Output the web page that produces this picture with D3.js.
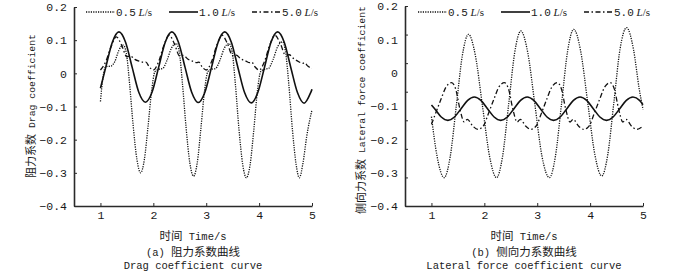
<!DOCTYPE html>
<html>
<head>
<meta charset="utf-8">
<script src="https://cdn.jsdelivr.net/npm/d3@7"></script>
<style>
  body { margin: 0; background: #fff; }
  text { font-family: "Liberation Mono", "DejaVu Sans Mono", "Noto Sans CJK SC", monospace; fill: #1a1a1a; }
  .cjk { font-family: "Noto Sans CJK SC", sans-serif; }
</style>
</head>
<body>
<svg width="700" height="271"></svg>
<script>
// tick values and legend names
let timeTicks = [1, 2, 3, 4, 5]
let coefTicks = [0.2, 0.1, 0, -0.1, -0.2, -0.3, -0.4]
let flowNames = ["0.5", "1.0", "5.0"]

// drag coefficient, [time, value]
let drag05 = [[1.0,-0.085],[1.05,-0.01],[1.1,0.02],[1.2,0.022],[1.27,0.035],[1.35,0.07],[1.43,0.085],[1.49,0.06],[1.55,-0.03],[1.62,-0.16],[1.69,-0.26],[1.76,-0.30],[1.83,-0.26],[1.9,-0.16],[1.97,-0.05],[2.03,0.005],[2.1,0.012],[2.18,0.015],[2.26,0.04],[2.34,0.075],[2.43,0.09],[2.49,0.065],[2.55,-0.03],[2.62,-0.165],[2.69,-0.27],[2.76,-0.31],[2.83,-0.27],[2.9,-0.165],[2.97,-0.05],[3.03,0.005],[3.1,0.012],[3.18,0.015],[3.26,0.04],[3.34,0.075],[3.43,0.09],[3.49,0.065],[3.55,-0.03],[3.62,-0.17],[3.69,-0.275],[3.76,-0.315],[3.83,-0.275],[3.9,-0.17],[3.97,-0.05],[4.03,0.005],[4.1,0.012],[4.18,0.015],[4.26,0.04],[4.35,0.08],[4.44,0.095],[4.5,0.065],[4.56,-0.03],[4.63,-0.17],[4.7,-0.275],[4.76,-0.315],[4.83,-0.27],[4.9,-0.19],[5.0,-0.11]]
let drag10 = [[1.0,-0.045],[1.1,0.018],[1.225,0.094],[1.35,0.125],[1.475,0.094],[1.6,0.018],[1.725,-0.057],[1.85,-0.087],[1.975,-0.057],[2.1,0.018],[2.225,0.094],[2.35,0.125],[2.475,0.094],[2.6,0.018],[2.725,-0.057],[2.85,-0.088],[2.975,-0.057],[3.1,0.018],[3.225,0.094],[3.35,0.125],[3.475,0.094],[3.6,0.017],[3.725,-0.058],[3.85,-0.089],[3.975,-0.058],[4.1,0.017],[4.225,0.094],[4.35,0.125],[4.475,0.094],[4.6,0.017],[4.725,-0.058],[4.85,-0.09],[4.975,-0.058],[5.0,-0.048]]
let drag50 = [[1.0,0.01],[1.1,0.035],[1.2,0.08],[1.3,0.11],[1.4,0.085],[1.5,0.05],[1.57,0.052],[1.65,0.042],[1.75,0.036],[1.82,0.033],[1.86,0.034],[1.92,0.02],[2.0,0.01],[2.1,0.035],[2.2,0.085],[2.3,0.115],[2.4,0.088],[2.5,0.052],[2.57,0.054],[2.65,0.043],[2.75,0.036],[2.82,0.032],[2.86,0.034],[2.92,0.02],[3.0,0.01],[3.1,0.035],[3.2,0.085],[3.3,0.115],[3.4,0.09],[3.5,0.053],[3.57,0.055],[3.65,0.044],[3.75,0.037],[3.82,0.032],[3.86,0.034],[3.92,0.02],[4.0,0.01],[4.1,0.035],[4.2,0.085],[4.3,0.115],[4.4,0.09],[4.5,0.055],[4.57,0.056],[4.65,0.045],[4.75,0.035],[4.82,0.03],[4.86,0.032],[4.92,0.022],[5.0,0.015]]

// lateral force coefficient, [time, value]
let lat05 = [[1.0,-0.132],[1.11,-0.254],[1.24,-0.315],[1.355,-0.252],[1.47,-0.1],[1.585,0.052],[1.7,0.115],[1.83,0.052],[1.965,-0.1],[2.1,-0.252],[2.23,-0.315],[2.345,-0.251],[2.46,-0.095],[2.575,0.061],[2.69,0.125],[2.82,0.061],[2.955,-0.095],[3.09,-0.251],[3.23,-0.315],[3.345,-0.25],[3.46,-0.093],[3.575,0.065],[3.69,0.13],[3.82,0.066],[3.955,-0.09],[4.09,-0.246],[4.22,-0.31],[4.335,-0.245],[4.45,-0.088],[4.565,0.07],[4.69,0.135],[4.82,0.07],[4.93,-0.05],[5.0,-0.11]]
let lat10 = [[1.0,-0.097],[1.06,-0.108],[1.185,-0.133],[1.31,-0.143],[1.435,-0.133],[1.56,-0.108],[1.685,-0.083],[1.81,-0.073],[1.935,-0.083],[2.06,-0.108],[2.185,-0.133],[2.31,-0.143],[2.435,-0.133],[2.56,-0.108],[2.685,-0.083],[2.81,-0.073],[2.935,-0.083],[3.06,-0.108],[3.185,-0.133],[3.31,-0.143],[3.435,-0.133],[3.56,-0.108],[3.685,-0.083],[3.81,-0.073],[3.935,-0.083],[4.06,-0.108],[4.185,-0.133],[4.31,-0.143],[4.435,-0.133],[4.56,-0.108],[4.685,-0.083],[4.81,-0.073],[4.935,-0.083],[5.0,-0.096]]
let lat50 = [[1.0,-0.155],[1.06,-0.13],[1.18,-0.08],[1.28,-0.042],[1.38,-0.03],[1.46,-0.05],[1.54,-0.11],[1.62,-0.148],[1.68,-0.14],[1.78,-0.16],[1.88,-0.17],[1.95,-0.165],[2.0,-0.155],[2.06,-0.13],[2.18,-0.08],[2.28,-0.042],[2.38,-0.03],[2.46,-0.05],[2.54,-0.11],[2.62,-0.148],[2.68,-0.14],[2.78,-0.16],[2.88,-0.17],[2.95,-0.165],[3.0,-0.155],[3.06,-0.13],[3.18,-0.08],[3.28,-0.042],[3.38,-0.03],[3.46,-0.05],[3.54,-0.11],[3.62,-0.148],[3.68,-0.14],[3.78,-0.16],[3.88,-0.17],[3.95,-0.165],[4.0,-0.155],[4.06,-0.13],[4.18,-0.08],[4.28,-0.042],[4.38,-0.03],[4.46,-0.05],[4.54,-0.11],[4.62,-0.148],[4.68,-0.14],[4.78,-0.16],[4.88,-0.17],[5.0,-0.16]]

let svg = d3.select("svg")

// line look for each flow rate
let styles = [
    { width: 1.3, dash: "1.2,1.2" },
    { width: 1.6, dash: null },
    { width: 1.3, dash: "5,2.5,1.5,2.5" }
]

let panels = [
    { left: 74, right: 312, bottom: 206, top: 7, data: [drag05, drag10, drag50],
      ylabel: "阻力系数 Drag coefficient", labelX: 29, labelY: 106, cap1: "(a) 阻力系数曲线", cap2: "Drag coefficient curve",
      legendX: 86, oddTicks: false },
    { left: 405, right: 643, bottom: 206, top: 6, data: [lat05, lat10, lat50],
      ylabel: "侧向力系数 Lateral force coefficient", labelX: 359, labelY: 110, cap1: "(b) 侧向力系数曲线", cap2: "Lateral force coefficient curve",
      legendX: 418, oddTicks: true }
]

// split a string into CJK / latin runs so the Chinese can be a bit larger
function mixedText(sel, str, small, big) {
    let runs = str.match(/[\u4e00-\u9fff]+|[^\u4e00-\u9fff]+/g)
    runs.forEach((r) => {
        let cjk = /[\u4e00-\u9fff]/.test(r)
        sel.append("tspan")
            .attr("class", cjk ? "cjk" : null)
            .attr("font-size", cjk ? big : small)
            .text(r)
    })
    return sel
}

panels.forEach((p) => {
    let x = d3.scaleLinear().domain([0.5, 5]).range([p.left, p.right])
    let y = d3.scaleLinear().domain([-0.4, 0.2]).range([p.bottom, p.top])
    let mid = (p.left + p.right) / 2

    let line = d3.line()
        .x((d) => x(d[0]))
        .y((d) => y(d[1]))
        .curve(d3.curveMonotoneX)

    p.data.forEach((s, i) => {
        svg.append("path")
            .attr("d", line(s))
            .attr("fill", "none")
            .attr("stroke", "#111")
            .attr("stroke-width", styles[i].width)
            .attr("stroke-dasharray", styles[i].dash)
    })

    // x axis
    let gx = svg.append("g")
        .attr("transform", "translate(0," + p.bottom + ")")
        .call(d3.axisBottom(x).tickValues(timeTicks).tickFormat(d3.format("d"))
            .tickSizeInner(-3).tickSizeOuter(0).tickPadding(5))
    gx.selectAll("text").attr("font-size", 11.5)

    // y axis
    let yAxis = d3.axisLeft(y).tickValues(coefTicks).tickSizeOuter(0).tickPadding(7)
        .tickFormat((d) => Math.abs(d) < 1e-9 ? "0" : d3.format(".1f")(d).replace("-", "\u2212"))
    if (p.oddTicks) yAxis.tickSizeInner(0)
    else yAxis.tickSizeInner(-3)
    let gy = svg.append("g")
        .attr("transform", "translate(" + p.left + ",0)")
        .call(yAxis)
    gy.selectAll("text").attr("font-size", 11.5)

    if (p.oddTicks) {
        // right panel's tick marks don't line up with its labels
        let marks = d3.range(8).map((k) => 0.2 - k * 0.6 / 7)
        svg.append("g")
            .attr("transform", "translate(" + p.left + ",0)")
            .call(d3.axisLeft(y).tickValues(marks).tickFormat("").tickSizeInner(-3).tickSizeOuter(0))
            .select(".domain").remove()
    }

    svg.selectAll(".domain").attr("stroke", "#2a2a2a").attr("stroke-width", 1.6)
    svg.selectAll(".tick line").attr("stroke", "#2a2a2a")

    // labels
    mixedText(svg.append("text")
        .attr("transform", "translate(" + p.labelX + "," + p.labelY + ") rotate(-90)")
        .attr("text-anchor", "middle").attr("dy", "0.35em"), p.ylabel, 9.8, 11)

    mixedText(svg.append("text").attr("x", mid).attr("y", 240).attr("text-anchor", "middle"), "时间 Time/s", 10.5, 11.5)
    mixedText(svg.append("text").attr("x", mid).attr("y", 256).attr("text-anchor", "middle"), p.cap1, 10.5, 11.5)
    mixedText(svg.append("text").attr("x", mid).attr("y", 269).attr("text-anchor", "middle"), p.cap2, 10.5, 11.5)

    // legend
    flowNames.forEach((name, i) => {
        let lx = p.legendX + i * 83
        svg.append("line")
            .attr("x1", lx).attr("x2", lx + 29)
            .attr("y1", 12).attr("y2", 12)
            .attr("stroke", "#111")
            .attr("stroke-width", styles[i].width)
            .attr("stroke-dasharray", styles[i].dash)
        let t = svg.append("text").attr("x", lx + 30).attr("y", 16).attr("font-size", 11)
        t.append("tspan").text(name)
        t.append("tspan").attr("font-family", "Liberation Serif").attr("font-style", "italic").text(" L")
        t.append("tspan").attr("font-family", "Liberation Serif").text("/s")
    })
})
</script>
</body>
</html>
